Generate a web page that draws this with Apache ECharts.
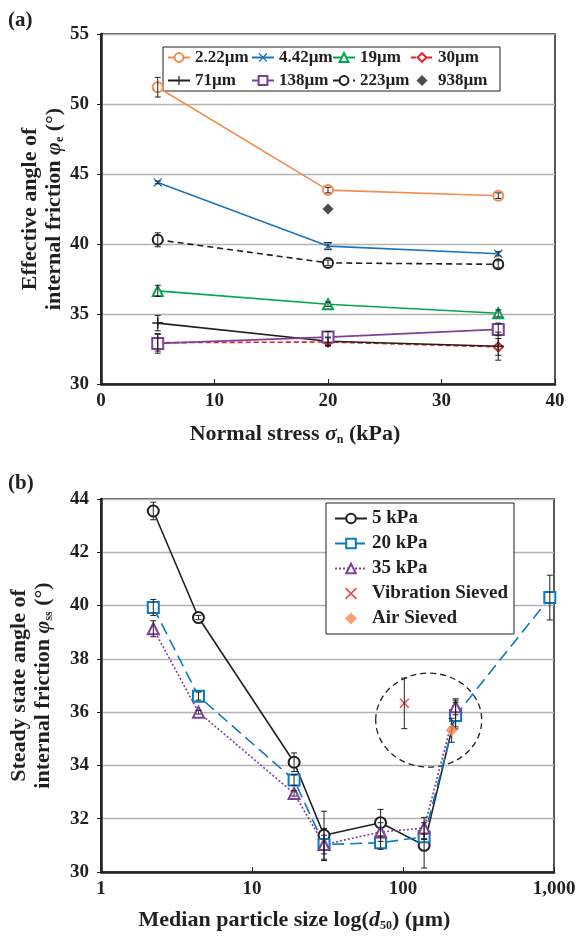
<!DOCTYPE html>
<html><head><meta charset="utf-8">
<script src="https://cdn.jsdelivr.net/npm/echarts@6/dist/echarts.min.js"></script>
<style>html,body{margin:0;padding:0;background:#fff}#c{width:581px;height:936px}</style>
</head><body><div id="c"></div>
<script>
// ---- data: panel (a) ----
const stress = [5, 20, 35];
const phiE_222 = [51.2, 43.85, 43.45];  const errE_222 = [0.7, 0.2, 0.2];
const phiE_442 = [44.4, 39.85, 39.3];   const errE_442 = [0.1, 0.25, 0.15];
const phiE_19  = [36.65, 35.7, 35.05];  const errE_19  = [0.4, 0.15, 0.25];
const phiE_30  = [32.95, 33.0, 32.65];  const errE_30  = [0.6, 0.3, 0.6];
const phiE_71  = [34.35, 33.05, 32.7];  const errE_71  = [0.55, 0.3, 1.0];
const phiE_138 = [32.9, 33.35, 33.9];   const errE_138 = [0.7, 0.4, 0.45];
const phiE_223 = [40.3, 38.65, 38.55];  const errE_223 = [0.5, 0.2, 0.25];
const phiE_938 = [null, 42.5, null];
const xTicksA = [0, 10, 20, 30, 40];
const yTicksA = [30, 35, 40, 45, 50, 55];
// ---- data: panel (b) ----
const d50 = [2.22, 4.42, 19, 30, 71, 138, 223, 938];
const phiSS_5  = [43.55, 39.55, 34.12, 31.38, 31.85, 31.0, 35.95];
const errSS_5  = [0.33, 0.08, 0.35, 0.9, 0.5, 0.85, 0.5];
const phiSS_20 = [39.93, 36.6, 33.45, 31.03, 31.1, 31.32, 35.87, 40.3];
const errSS_20 = [0.3, 0.15, 0.2, 0.35, 0.25, 0.1, 0.5, 0.84];
const phiSS_35 = [39.13, 36.0, 32.95, 31.03, 31.5, 31.65, 36.2];
const errSS_35 = [0.3, 0.07, 0.1, 0.6, 0.35, 0.4, 0.3];
const vibD50 = [102];  const vibPhi = [36.33]; const vibErr = [0.95];
const airD50 = [210];  const airPhi = [35.32]; const airErr = [0.45];
const xTicksB = [1, 10, 100, 1000];
const yTicksB = [30, 32, 34, 36, 38, 40, 42, 44];
const circleCenter = [148, 35.7];

const FONT = '"Liberation Serif","Times New Roman",serif';
const ORANGE='#F58B4C', BLUE='#1A75BC', GREEN='#00A651', RED='#ED1C24', PURPLE='#7E3F98', BLACK='#231F20';
const SYM_X = 'path://M0,1L1,0L5,4L9,0L10,1L6,5L10,9L9,10L5,6L1,10L0,9L4,5Z';
const SYM_PLUS = 'path://M4.3,0H5.7V4.3H10V5.7H5.7V10H4.3V5.7H0V4.3H4.3Z';
const SYM_DIAM = 'path://M5,0L10,5L5,10L0,5Z';

function pairs(xs, ys){ return ys.map((v,i)=> v==null? null : [xs[i], v]).filter(p=>p); }
function errs(xs, ys, es){ return ys.map((v,i)=> (v==null||es[i]==null)? null : [xs[i], v-es[i], v+es[i]]).filter(p=>p); }

const errA = [].concat(
  errs(stress, phiE_222, errE_222), errs(stress, phiE_442, errE_442), errs(stress, phiE_19, errE_19),
  errs(stress, phiE_30, errE_30), errs(stress, phiE_71, errE_71), errs(stress, phiE_138, errE_138),
  errs(stress, phiE_223, errE_223));
const errB = [].concat(
  errs(d50, phiSS_5, errSS_5), errs(d50, phiSS_20, errSS_20), errs(d50, phiSS_35, errSS_35),
  errs(vibD50, vibPhi, vibErr), errs(airD50, airPhi, airErr));

function renderErr(params, api){
  const x = api.value(0), lo = api.value(1), hi = api.value(2);
  const a = api.coord([x, lo]), b = api.coord([x, hi]);
  const w = 3, st = {stroke: BLACK, lineWidth: 1};
  return {type:'group', children:[
    {type:'line', shape:{x1:a[0],y1:a[1],x2:b[0],y2:b[1]}, style:st},
    {type:'line', shape:{x1:a[0]-w,y1:a[1],x2:a[0]+w,y2:a[1]}, style:st},
    {type:'line', shape:{x1:b[0]-w,y1:b[1],x2:b[0]+w,y2:b[1]}, style:st}
  ]};
}

const labelStyle = {fontFamily: FONT, fontWeight:'bold', fontSize:19, color: BLACK};
const nameRich = {
  t:{fontFamily:FONT, fontWeight:'bold', fontSize:22, color:BLACK, lineHeight:24},
  i:{fontFamily:FONT, fontWeight:'bold', fontStyle:'italic', fontSize:22, color:BLACK, lineHeight:24},
  s:{fontFamily:FONT, fontWeight:'bold', fontSize:12, color:BLACK, verticalAlign:'bottom', lineHeight:14}
};
const legText = {fontFamily:FONT, fontWeight:'bold', fontSize:17, color:BLACK};

function lineSer(name, xi, data, color, symbol, dash, size){
  return {name, type:'line', xAxisIndex:xi, yAxisIndex:xi, data, color,
    symbol, symbolSize: size||10, showAllSymbol:true,
    lineStyle:{color, width:1.6, type: dash||'solid'},
    itemStyle:{color, borderWidth:1.4},
    z: 3, animation:false};
}

const chart = echarts.init(document.getElementById('c'), null, {renderer:'canvas'});
const option = {
  backgroundColor:'#fff',
  animation:false,
  grid:[
    {left:101, top:34, width:454, height:350, show:true, borderColor:BLACK, borderWidth:1.5, backgroundColor:'transparent'},
    {left:101, top:499, width:453, height:373, show:true, borderColor:BLACK, borderWidth:1.5, backgroundColor:'transparent'}
  ],
  xAxis:[
    {type:'value', gridIndex:0, min:xTicksA[0], max:xTicksA[xTicksA.length-1], interval:10,
     axisLine:{lineStyle:{color:BLACK, width:2.5}}, axisTick:{inside:true, length:5, lineStyle:{color:BLACK, width:1}},
     axisLabel:Object.assign({margin:8}, labelStyle), splitLine:{show:false},
     name:'{t|Normal stress }{i|σ}{s|n}{t| (kPa)}', nameLocation:'middle', nameGap:38,
     nameTextStyle:{rich:nameRich, padding:[0,66,0,0]}},
    {type:'log', gridIndex:1, logBase:10, min:xTicksB[0], max:xTicksB[xTicksB.length-1],
     axisLine:{lineStyle:{color:BLACK, width:2.5}}, axisTick:{inside:true, length:5, lineStyle:{color:BLACK, width:1}},
     minorTick:{show:false},
     axisLabel:Object.assign({margin:8, formatter:v=> v>=1000? v.toLocaleString('en-US') : String(v)}, labelStyle),
     splitLine:{show:false},
     name:'{t|Median particle size log(}{i|d}{s|50}{t|) (µm)}', nameLocation:'middle', nameGap:36,
     nameTextStyle:{rich:nameRich, padding:[0,66,0,0]}}
  ],
  yAxis:[
    {type:'value', gridIndex:0, min:yTicksA[0], max:yTicksA[yTicksA.length-1], interval:5,
     axisLine:{show:true, lineStyle:{color:BLACK, width:2.5}}, axisTick:{show:true, length:4, lineStyle:{color:BLACK}},
     axisLabel:Object.assign({margin:12}, labelStyle),
     splitLine:{lineStyle:{color:'#B3B3B3', width:1.3}},
     name:'{t|Effective angle of}\n{t|internal friction }{i|φ}{s|e}{t| (°)}', nameLocation:'middle', nameGap:35,
     nameMoveOverlap:false,
     nameTextStyle:{rich:nameRich}},
    {type:'value', gridIndex:1, min:yTicksB[0], max:yTicksB[yTicksB.length-1], interval:2,
     axisLine:{show:true, lineStyle:{color:BLACK, width:2.5}}, axisTick:{show:true, length:4, lineStyle:{color:BLACK}},
     axisLabel:Object.assign({margin:12}, labelStyle),
     splitLine:{lineStyle:{color:'#B3B3B3', width:1.3}},
     name:'{t|Steady state angle of}\n{t|internal friction }{i|φ}{s|ss}{t| (°)}', nameLocation:'middle', nameGap:46,
     nameMoveOverlap:false,
     nameTextStyle:{rich:nameRich}}
  ],
  legend:[
    {data:['2.22µm','71µm'], orient:'vertical', left:167, top:49, itemGap:6, itemWidth:22, itemHeight:11, textStyle:legText, padding:0},
    {data:['4.42µm','138µm'], orient:'vertical', left:251, top:49, itemGap:6, itemWidth:22, itemHeight:11, textStyle:legText, padding:0},
    {data:['19µm','223µm'], orient:'vertical', left:332, top:49, itemGap:6, itemWidth:22, itemHeight:11, textStyle:legText, padding:0},
    {data:['30µm','938µm'], orient:'vertical', left:410, top:49, itemGap:6, itemWidth:22, itemHeight:11, textStyle:legText, padding:0},
    {data:['5 kPa','20 kPa','35 kPa','Vibration Sieved','Air Sieved'], orient:'vertical', left:326, top:503,
     itemGap:6, itemWidth:32, itemHeight:12, borderColor:BLACK, borderWidth:1, padding:[6,6,6,8],
     backgroundColor:'#fff', textStyle:Object.assign({}, legText, {fontSize:19})}
  ],
  graphic:[
    {id:'la', type:'text', left:8, top:10, style:{text:'(a)', font:'bold 21px '+FONT, fill:BLACK}},
    {id:'lb', type:'text', left:8, top:473, style:{text:'(b)', font:'bold 21px '+FONT, fill:BLACK}},
    {id:'legbox', type:'rect', shape:{x:163, y:47, width:337, height:44}, style:{fill:'#fff', stroke:BLACK, lineWidth:1}, z:2}
  ],
  series:[
    lineSer('2.22µm', 0, pairs(stress, phiE_222), ORANGE, 'emptyCircle'),
    lineSer('4.42µm', 0, pairs(stress, phiE_442), BLUE, SYM_X, 'solid', 9),
    lineSer('19µm', 0, pairs(stress, phiE_19), GREEN, 'emptyTriangle'),
    lineSer('30µm', 0, pairs(stress, phiE_30), RED, 'emptyDiamond', [5,3], 9),
    lineSer('71µm', 0, pairs(stress, phiE_71), BLACK, SYM_PLUS, 'solid', 11),
    lineSer('138µm', 0, pairs(stress, phiE_138), PURPLE, 'emptyRect', 'solid', 11),
    lineSer('223µm', 0, pairs(stress, phiE_223), BLACK, 'emptyCircle', [6,4]),
    {name:'938µm', type:'scatter', xAxisIndex:0, yAxisIndex:0, data:pairs(stress, phiE_938), symbol:SYM_DIAM, symbolSize:11, itemStyle:{color:BLACK}, z:3},
    {type:'custom', xAxisIndex:0, yAxisIndex:0, renderItem:renderErr, data:errA, encode:{x:0, y:[1,2]}, z:4, silent:true},

    lineSer('5 kPa', 1, pairs(d50, phiSS_5), BLACK, 'emptyCircle', 'solid', 11),
    lineSer('20 kPa', 1, pairs(d50, phiSS_20), '#0B7BC1', 'emptyRect', [12,6], 11),
    lineSer('35 kPa', 1, pairs(d50, phiSS_35), PURPLE, 'emptyTriangle', [2,2], 11),
    {name:'Vibration Sieved', type:'scatter', xAxisIndex:1, yAxisIndex:1, data:pairs(vibD50, vibPhi), symbol:SYM_X, symbolSize:10, itemStyle:{color:RED}, z:3},
    {name:'Air Sieved', type:'scatter', xAxisIndex:1, yAxisIndex:1, data:pairs(airD50, airPhi), symbol:SYM_DIAM, symbolSize:12, itemStyle:{color:ORANGE}, z:5},
    {type:'custom', xAxisIndex:1, yAxisIndex:1, renderItem:renderErr, data:errB, encode:{x:0, y:[1,2]}, z:4, silent:true}
  ]
};
chart.setOption(option);
const cpt = chart.convertToPixel({gridIndex:1}, circleCenter);
chart.setOption({graphic:[{id:'circ', type:'ellipse', shape:{cx:cpt[0], cy:cpt[1], rx:53, ry:47},
  style:{fill:'none', stroke:BLACK, lineWidth:1.3, lineDash:[6,4]}, z:1}]});
</script></body></html>
